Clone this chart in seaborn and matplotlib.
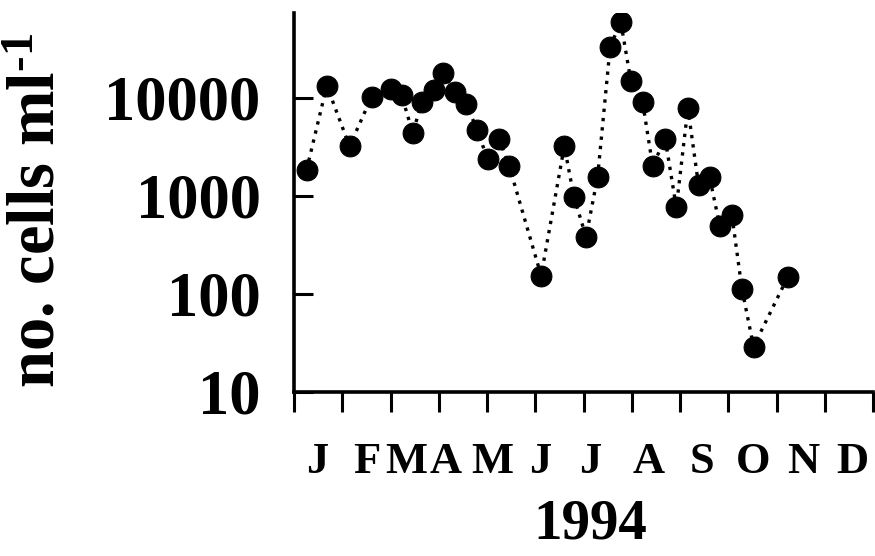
import pandas as pd
import matplotlib.pyplot as plt
import seaborn as sns

# sampling dates in month units (0 = 1 Jan, 12 = 31 Dec) and cell counts
month = [0.26, 0.68, 1.15, 1.61, 2.01, 2.23, 2.46, 2.65, 2.91, 3.09, 3.34, 3.57,
         3.79, 4.01, 4.25, 4.46, 5.12, 5.60, 5.80, 6.05, 6.29, 6.55, 6.77, 6.98,
         7.22, 7.43, 7.69, 7.92, 8.16, 8.38, 8.61, 8.82, 9.07, 9.28, 9.52, 10.23]
cells = [1830, 13200, 3190, 10200, 12300, 10500, 4370, 8950, 12000, 17700, 11500, 8630,
         4710, 2370, 3790, 1990, 153, 3200, 966, 382, 1560, 33100, 58600, 14600,
         9100, 2020, 3800, 760, 7780, 1290, 1540, 494, 640, 112, 29, 149]

month_letters = ["J", "F", "M", "A", "M", "J", "J", "A", "S", "O", "N", "D"]
letter_pos = [0.48, 1.51, 2.32, 3.15, 4.10, 5.10, 6.13, 7.34, 8.46, 9.51, 10.55, 11.56]
y_ticks = [10, 100, 1000, 10000]

sns.set_style("ticks")
plt.rcParams['font.family'] = ['Liberation Serif', 'DejaVu Serif']
plt.rcParams['font.weight'] = 'bold'
plt.rcParams['mathtext.fontset'] = 'custom'
plt.rcParams['mathtext.rm'] = 'Liberation Serif:bold'
plt.rcParams['mathtext.it'] = 'Liberation Serif:bold'
plt.rcParams['mathtext.bf'] = 'Liberation Serif:bold'
for k in ['text.color', 'axes.labelcolor', 'xtick.color', 'ytick.color', 'axes.edgecolor']:
    plt.rcParams[k] = 'black'

df = pd.DataFrame({'month': month, 'cells': cells})

fig = plt.figure(figsize=(8.75, 5.56), dpi=100)
ax = fig.add_axes([0.336, 0.295, 0.662, 0.682])

sns.lineplot(data=df, x='month', y='cells', ax=ax, color='black',
             marker='o', markersize=15, markeredgecolor='black',
             linestyle=(0, (1, 1.8)), linewidth=2.4)

ax.set_yscale('log')
ax.set_ylim(10, 73000)
ax.set_xlim(0, 12)
sns.despine(ax=ax)
for s in ['left', 'bottom']:
    ax.spines[s].set_linewidth(2.6)

# y axis: decades labelled, ticks inside
ax.set_yticks(y_ticks)
ax.set_yticklabels([str(v) for v in y_ticks])
ax.yaxis.set_minor_locator(plt.matplotlib.ticker.LogLocator(base=10, subs=range(2, 10)))
ax.yaxis.set_minor_formatter(plt.NullFormatter())
ax.tick_params(axis='y', which='major', direction='in', length=14, width=2.2,
               pad=24, labelsize=45)
ax.tick_params(axis='y', which='minor', direction='in', length=6, width=1.6)

# x axis: month boundaries as ticks, letters as separate minor labels
ax.set_xticks(range(13))
ax.set_xticklabels([])
ax.set_xticks(letter_pos, minor=True)
ax.set_xticklabels(month_letters, minor=True)
ax.tick_params(axis='x', which='major', direction='out', length=14.4, width=2.2)
ax.tick_params(axis='x', which='minor', length=0, pad=36, labelsize=32)

ax.set_xlabel('1994', fontsize=41, fontweight='bold')
ax.xaxis.set_label_coords(0.5115, -0.282)
ax.set_ylabel(r'no. cells ml$^{\text{-}1}$', fontsize=48, fontweight='bold')
ax.yaxis.set_label_coords(-0.39, 0.48)

fig.savefig('out.png', dpi=100)
